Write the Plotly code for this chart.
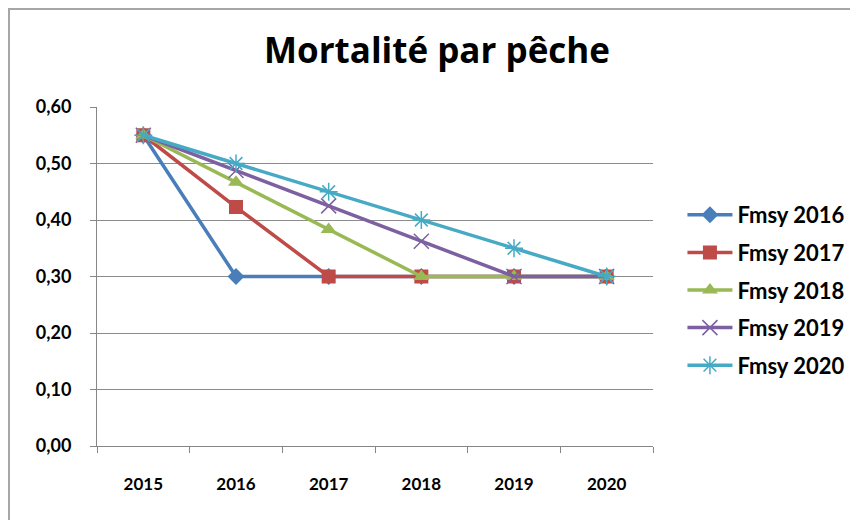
import plotly.graph_objects as go

years = ["2015", "2016", "2017", "2018", "2019", "2020"]
series_names = ["Fmsy 2016", "Fmsy 2017", "Fmsy 2018", "Fmsy 2019", "Fmsy 2020"]
fmsy_2016 = [0.55, 0.30, 0.30, 0.30, 0.30, 0.30]
fmsy_2017 = [0.55, 0.423, 0.30, 0.30, 0.30, 0.30]
fmsy_2018 = [0.55, 0.467, 0.383, 0.30, 0.30, 0.30]
fmsy_2019 = [0.55, 0.4875, 0.425, 0.3625, 0.30, 0.30]
fmsy_2020 = [0.55, 0.50, 0.45, 0.40, 0.35, 0.30]
y_ticks = [0.0, 0.1, 0.2, 0.3, 0.4, 0.5, 0.6]

values = [fmsy_2016, fmsy_2017, fmsy_2018, fmsy_2019, fmsy_2020]
colors = ["#4A7EBB", "#BE4B48", "#98B954", "#7D60A0", "#46AAC5"]
symbols = ["diamond", "square", "triangle-up", "x-thin", "asterisk"]
sizes = [13, 14, 14, 15, 15]

FONT = "Lato"
# page offset: the browser body adds ~8px around the figure
L, T, PW, PH = 89, 99, 556, 339
W, H = 858, 520

fig = go.Figure()
for i, (name, vals) in enumerate(zip(series_names, values)):
    thin = symbols[i] in ("x-thin", "asterisk")
    fig.add_trace(go.Scatter(
        x=years, y=vals, name=name, mode="lines+markers",
        legendgroup=name,
        line=dict(color=colors[i], width=3.5),
        marker=dict(symbol=symbols[i], size=sizes[i], color=colors[i],
                    line=dict(color=colors[i], width=1.5 if thin else 0)),
    ))

fig.update_layout(
    width=W, height=H,
    paper_bgcolor="white", plot_bgcolor="white",
    separators=", ",
    margin=dict(l=L, r=W - L - PW, t=T, b=H - T - PH, autoexpand=False),
    title=dict(text="<b>Mortalité par pêche</b>", x=(437 - 8) / W, xanchor="center",
               y=1 - (51 - 8) / H, yanchor="middle",
               font=dict(family="Open Sans", size=35, color="black")),
    font=dict(family=FONT, color="black"),
    xaxis=dict(
        type="category", range=[-0.5, 5.5], showgrid=False, showline=True,
        linecolor="#868686", linewidth=1,
        ticks="outside", tickson="boundaries", ticklen=6, tickcolor="#868686",
        tickfont=dict(family=FONT, size=17, color="black", weight="bold"),
        ticklabelstandoff=23,
    ),
    yaxis=dict(
        range=[0, 0.6], tickvals=y_ticks, tickformat=".2f",
        showgrid=True, gridcolor="#8C8C8C", gridwidth=1,
        showline=True, linecolor="#868686", linewidth=1,
        ticks="outside", ticklen=6, tickcolor="#868686",
        tickfont=dict(family=FONT, size=18, color="black", weight="bold"),
        ticklabelstandoff=15, zeroline=False,
    ),
    legend=dict(
        x=(680 - L) / PW - 0.01, xanchor="left", y=(T + PH - 282) / PH, yanchor="middle",
        font=dict(family=FONT, size=22, color="black", weight="bold"),
        tracegroupgap=6, itemwidth=45, bgcolor="rgba(0,0,0,0)",
    ),
    shapes=[dict(type="rect", xref="paper", yref="paper",
                 x0=(1 - L) / PW, x1=(W + 10 - L) / PW,
                 y0=-(H + 10 - T - PH) / PH, y1=(T + PH - 1) / PH,
                 line=dict(color="#A6A6A6", width=2), fillcolor="rgba(0,0,0,0)", layer="below")],
)

fig.write_html("out.html")
